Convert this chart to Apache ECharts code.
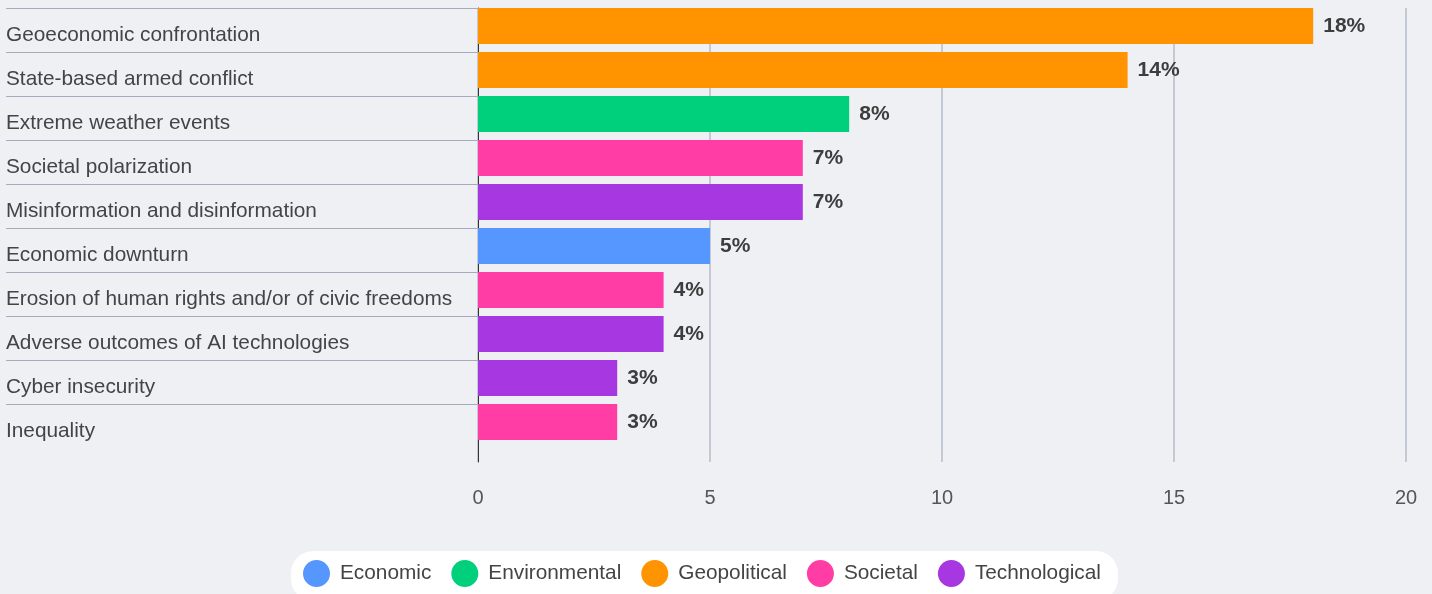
<!DOCTYPE html>
<html>
<head>
<meta charset="utf-8">
<script src="https://cdn.jsdelivr.net/npm/echarts@6/dist/echarts.min.js"></script>
<style>
  html, body { margin: 0; padding: 0; background: #eff0f4; }
  #chart { width: 1432px; height: 594px; }
</style>
</head>
<body>
<div id="chart"></div>
<script>
// Top risks, share of respondents (%)
const categories = [
  'Geoeconomic confrontation',
  'State-based armed conflict',
  'Extreme weather events',
  'Societal polarization',
  'Misinformation and disinformation',
  'Economic downturn',
  'Erosion of human rights and/or of civic freedoms',
  'Adverse outcomes of AI technologies',
  'Cyber insecurity',
  'Inequality'
];
const values = [18, 14, 8, 7, 7, 5, 4, 4, 3, 3];
const riskGroups = [
  'Geopolitical', 'Geopolitical', 'Environmental', 'Societal', 'Technological',
  'Economic', 'Societal', 'Technological', 'Technological', 'Societal'
];
const groupNames = ['Economic', 'Environmental', 'Geopolitical', 'Societal', 'Technological'];
const groupColors = ['#5596ff', '#00d07b', '#ff9300', '#ff3da5', '#a737e0'];
const xTicks = [0, 5, 10, 15, 20];

const FONT = '"Liberation Sans", Arial, sans-serif';
const chart = echarts.init(document.getElementById('chart'));

const gridLeft = 478, gridRight = 26;

// one stacked series per risk group so every bar takes its group colour and legend entry
const series = groupNames.map((g, gi) => ({
  name: g,
  type: 'bar',
  xAxisIndex: 1,
  yAxisIndex: 1,
  stack: 'risk',
  barWidth: 36,
  itemStyle: { color: groupColors[gi] },
  label: {
    show: true,
    position: 'right',
    distance: 10,
    formatter: p => p.value + '%',
    color: '#3d3d3d',
    fontFamily: FONT,
    fontWeight: 'bold',
    fontSize: 21
  },
  data: values.map((v, i) => (riskGroups[i] === g ? v : '-'))
}));

chart.setOption({
  backgroundColor: '#eff0f4',
  animation: false,
  grid: [
    { left: gridLeft, right: gridRight, top: 8, bottom: 132 },   // frame: value gridlines + zero line
    { left: gridLeft, right: gridRight, top: 4, height: 440 },   // bars + category names
    { left: gridLeft, right: gridRight, top: 8, height: 396 }    // row separators under the names
  ],
  xAxis: [
    {
      gridIndex: 0, type: 'value', min: xTicks[0], max: xTicks[xTicks.length - 1], interval: 5,
      axisLine: { show: false }, axisTick: { show: false },
      splitLine: { show: true, lineStyle: { color: '#c3cad6', width: 2 } },
      axisLabel: { color: '#555', fontFamily: FONT, fontSize: 20, margin: 26 }
    },
    {
      gridIndex: 1, type: 'value', min: xTicks[0], max: xTicks[xTicks.length - 1],
      show: false, splitLine: { show: false }
    },
    {
      gridIndex: 2, type: 'value', min: xTicks[0], max: xTicks[xTicks.length - 1],
      show: false, splitLine: { show: false }
    }
  ],
  yAxis: [
    {
      gridIndex: 0, type: 'category', data: [''],
      axisLine: { show: true, lineStyle: { color: '#333', width: 1 } },
      axisTick: { show: false }, axisLabel: { show: false }, splitLine: { show: false }
    },
    {
      gridIndex: 1, type: 'category', inverse: true, data: categories,
      axisLine: { show: false }, axisTick: { show: false }, splitLine: { show: false },
      axisLabel: {
        align: 'left', verticalAlign: 'top', lineHeight: 18,
        margin: 472, color: '#444', fontFamily: FONT, fontSize: 20.8
      }
    },
    {
      gridIndex: 2, type: 'category', data: categories.slice(1).map(() => ''),
      axisLine: { show: false }, axisLabel: { show: false }, splitLine: { show: false },
      axisTick: { show: true, length: 472, lineStyle: { color: '#a4acbd', width: 1 } }
    }
  ],
  legend: {
    data: groupNames,
    left: 291,
    top: 551,
    icon: 'circle',
    itemWidth: 27,
    itemHeight: 27,
    itemGap: 20,
    padding: [9, 17, 14, 12],
    backgroundColor: '#ffffff',
    borderRadius: 22,
    selectedMode: false,
    textStyle: { color: '#444', fontFamily: FONT, fontSize: 20.8, padding: [3, 0, 0, 5] }
  },
  series: series
});
</script>
</body>
</html>
